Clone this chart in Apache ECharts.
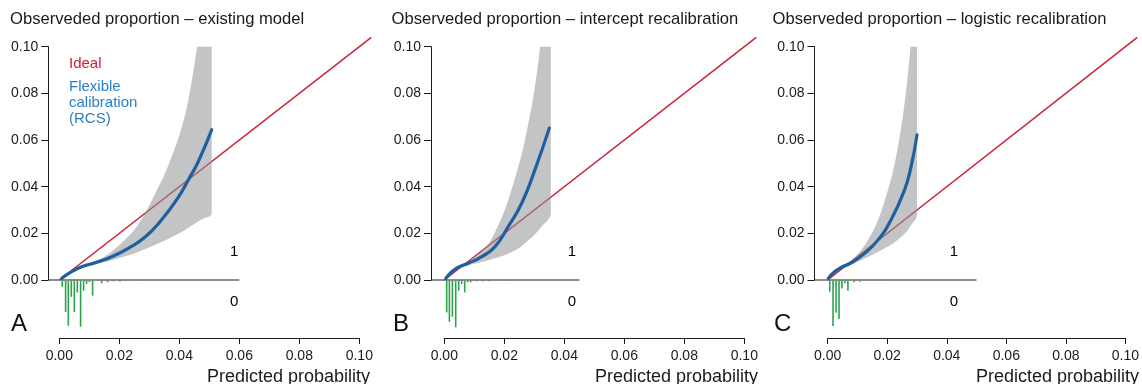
<!DOCTYPE html>
<html>
<head>
<meta charset="utf-8">
<script src="https://cdn.jsdelivr.net/npm/echarts@6/dist/echarts.min.js"></script>
<style>
  html, body { margin: 0; padding: 0; background: #fff; }
  #chart { width: 1142px; height: 384px; }
</style>
</head>
<body>
<div id="chart"></div>
<script>
const panelTitles = [
  'Observeded proportion – existing model',
  'Observeded proportion – intercept recalibration',
  'Observeded proportion – logistic recalibration',
];
const panelLetters = ['A', 'B', 'C'];
const xAxisName = 'Predicted probability';
const legendIdeal = 'Ideal';
const legendFlexible = 'Flexible\ncalibration\n(RCS)';
const outcomeLabels = ['1', '0'];

// ideal line end (runs a little past the axis max)
const idealEnd = 0.104;

// A: existing model
const curveXA = [0.0008, 0.0041, 0.0075, 0.0119, 0.0175, 0.023, 0.0286, 0.0341, 0.0397, 0.043, 0.0463, 0.0508];
const curveYA = [0.0007, 0.0036, 0.0057, 0.0074, 0.0100, 0.0136, 0.0184, 0.0258, 0.0355, 0.0429, 0.0507, 0.0644];
const bandXA = [0.001, 0.004, 0.007, 0.010, 0.0125, 0.015, 0.0175, 0.020, 0.0225, 0.025, 0.0275, 0.030, 0.0325, 0.035, 0.0375, 0.040, 0.0425, 0.045, 0.0475, 0.0508];
const bandHiA = [0.0010, 0.0040, 0.0060, 0.0074, 0.0085, 0.0100, 0.0122, 0.0150, 0.0180, 0.0215, 0.0262, 0.0320, 0.0385, 0.0450, 0.0530, 0.0620, 0.0740, 0.0920, 0.1150, 0.1500];
const bandLoA = [0.0006, 0.0032, 0.0050, 0.0061, 0.0069, 0.0077, 0.0085, 0.0094, 0.0104, 0.0114, 0.0126, 0.0140, 0.0154, 0.0168, 0.0184, 0.0200, 0.0220, 0.0240, 0.0260, 0.0285];
const spikeXA = [0.0010, 0.0021, 0.0030, 0.0040, 0.0050, 0.0060, 0.0071, 0.0081, 0.0091, 0.0100, 0.0111, 0.0141, 0.0161, 0.0180, 0.0202, 0.0222, 0.0260];
const spikeHA = [0.0029, 0.0137, 0.0196, 0.0072, 0.0137, 0.0053, 0.0200, 0.0046, 0.0017, 0.0009, 0.0067, 0.0014, 0.0010, 0.0006, 0.0006, 0.0004, 0.0004];

// B: intercept recalibration
const curveXB = [0.0005, 0.0025, 0.0047, 0.008, 0.0125, 0.0169, 0.0213, 0.0258, 0.0302, 0.035];
const curveYB = [0.0007, 0.0036, 0.0055, 0.0072, 0.0100, 0.0143, 0.0229, 0.0329, 0.0472, 0.0651];
const bandXB = [0.0005, 0.003, 0.006, 0.009, 0.012, 0.015, 0.018, 0.020, 0.022, 0.024, 0.026, 0.028, 0.030, 0.032, 0.0355];
const bandHiB = [0.0009, 0.0045, 0.0068, 0.0090, 0.0120, 0.0160, 0.0235, 0.0295, 0.0370, 0.0455, 0.0550, 0.0670, 0.0810, 0.1010, 0.1500];
const bandLoB = [0.0005, 0.0034, 0.0055, 0.0066, 0.0076, 0.0086, 0.0097, 0.0106, 0.0117, 0.0130, 0.0147, 0.0170, 0.0193, 0.0222, 0.0286];
const spikeXB = [0.0008, 0.0017, 0.0027, 0.0038, 0.0048, 0.0058, 0.0068, 0.0078, 0.0088, 0.0108, 0.0128, 0.0150, 0.0180, 0.0219];
const spikeHB = [0.0139, 0.0179, 0.0157, 0.0203, 0.0046, 0.0017, 0.0053, 0.0010, 0.0010, 0.0006, 0.0006, 0.0006, 0.0004, 0.0004];

// C: logistic recalibration
const curveXC = [0.0002, 0.0024, 0.0047, 0.008, 0.0124, 0.0169, 0.0213, 0.0258, 0.028, 0.030];
const curveYC = [0.0007, 0.0036, 0.0055, 0.0074, 0.0114, 0.0172, 0.0258, 0.0386, 0.0486, 0.0622];
const bandXC = [0.0003, 0.0025, 0.005, 0.008, 0.010, 0.012, 0.014, 0.016, 0.018, 0.020, 0.022, 0.024, 0.026, 0.028, 0.030];
const bandHiC = [0.0009, 0.0041, 0.0062, 0.0086, 0.0110, 0.0140, 0.0182, 0.0230, 0.0295, 0.0375, 0.0470, 0.0600, 0.0775, 0.1030, 0.1400];
const bandLoC = [0.0005, 0.0033, 0.0052, 0.0066, 0.0078, 0.0090, 0.0102, 0.0115, 0.0128, 0.0142, 0.0158, 0.0178, 0.0200, 0.0235, 0.0279];
const spikeXC = [0.0007, 0.0018, 0.0028, 0.0038, 0.0048, 0.0058, 0.0068, 0.0089, 0.0108, 0.0130, 0.0158, 0.0191];
const spikeHC = [0.0050, 0.0197, 0.0140, 0.0167, 0.0036, 0.0014, 0.0046, 0.0010, 0.0007, 0.0004, 0.0004, 0.0004];

// where the zero baseline stops and where the 1/0 labels sit, per panel
const zeroLineEnd = [0.06, 0.045, 0.05];
const outcomeLabelX = [0.0583, 0.0425, 0.0424];
const outcomeLabelY = [0.0121, -0.0093];

const curvesX = [curveXA, curveXB, curveXC];
const curvesY = [curveYA, curveYB, curveYC];
const bandsX = [bandXA, bandXB, bandXC];
const bandsHi = [bandHiA, bandHiB, bandHiC];
const bandsLo = [bandLoA, bandLoB, bandLoC];
const spikesX = [spikeXA, spikeXB, spikeXC];
const spikesH = [spikeHA, spikeHB, spikeHC];

const FONT = '"Liberation Sans", Arial, Helvetica, sans-serif';
const RED = '#cc2136';
const BLUE = '#1e5f9f';
const LEGEND_BLUE = '#2b80c5';
const GREEN = '#2ba24c';
const BAND = 'rgba(146,147,150,0.55)';
const INK = '#1a1a1a';

const gridLeft = [59.3, 444.3, 827.7];
const yAxisGap = [11, 13.3, 13.2];
const titleLeft = [10, 391.5, 772.5];
const letterLeft = [11, 393, 774];
const xNameRight = [772, 384, 3];
const pxPerUnit = 3000;

const chart = echarts.init(document.getElementById('chart'), null, { renderer: 'canvas' });

const grid = gridLeft.map(l => ({ left: l, top: 46.7, width: 300, height: 233.3 }));

const xAxis = gridLeft.map((_, i) => ({
  gridIndex: i,
  type: 'value',
  min: 0,
  max: 0.1,
  interval: 0.02,
  position: 'bottom',
  offset: 58,
  axisLine: { show: true, onZero: false, lineStyle: { color: INK, width: 1 } },
  axisTick: { show: true, length: 6, lineStyle: { color: INK } },
  axisLabel: { fontSize: 14, color: INK, margin: 11, fontFamily: FONT, formatter: v => v.toFixed(2) },
  splitLine: { show: false },
}));

const yAxis = gridLeft.map((_, i) => ({
  gridIndex: i,
  type: 'value',
  min: 0,
  max: 0.1,
  interval: 0.02,
  position: 'left',
  offset: yAxisGap[i],
  axisLine: { show: true, onZero: false, lineStyle: { color: INK, width: 1 } },
  axisTick: { show: true, length: 7, lineStyle: { color: INK } },
  axisLabel: { fontSize: 14, color: INK, margin: 10, fontFamily: FONT, formatter: v => v.toFixed(2) },
  splitLine: { show: false },
}));

const series = [];
gridLeft.forEach((_, i) => {
  const bx = bandsX[i], hi = bandsHi[i], lo = bandsLo[i];
  const sx = spikesX[i], sh = spikesH[i];

  // zero baseline, from the y axis to the end of the predictions
  series.push({
    type: 'custom',
    xAxisIndex: i, yAxisIndex: i,
    data: [[zeroLineEnd[i], 0]],
    clip: false, silent: true, z: 1,
    renderItem: (params, api) => {
      const p0 = api.coord([-yAxisGap[i] / pxPerUnit, 0]);
      const p1 = api.coord([api.value(0), 0]);
      return {
        type: 'line',
        shape: { x1: p0[0], y1: p0[1], x2: p1[0], y2: p1[1] },
        style: { stroke: INK, lineWidth: 1.2 },
      };
    },
  });

  // ideal diagonal
  series.push({
    type: 'custom',
    xAxisIndex: i, yAxisIndex: i,
    data: [[idealEnd, idealEnd]],
    clip: false, silent: true, z: 2,
    renderItem: (params, api) => {
      const p0 = api.coord([0, 0]);
      const p1 = api.coord([api.value(0), api.value(1)]);
      return {
        type: 'line',
        shape: { x1: p0[0], y1: p0[1], x2: p1[0], y2: p1[1] },
        style: { stroke: RED, lineWidth: 1.5 },
      };
    },
  });

  // confidence band
  series.push({
    type: 'custom',
    xAxisIndex: i, yAxisIndex: i,
    data: bx.map((x, k) => [x, lo[k], hi[k]]),
    encode: { x: 0, y: [1, 2] },
    clip: true, silent: true, z: 3,
    renderItem: (params, api) => {
      if (params.dataIndex !== 0) return null;
      const pts = [];
      for (let k = 0; k < bx.length; k++) pts.push(api.coord([bx[k], hi[k]]));
      for (let k = bx.length - 1; k >= 0; k--) pts.push(api.coord([bx[k], lo[k]]));
      const xs = pts.map(p => p[0]), ys = pts.map(p => p[1]);
      const box = [[Math.min(...xs), Math.min(...ys)], [Math.max(...xs), Math.max(...ys)]];
      return {
        type: 'polygon',
        shape: { points: pts, smooth: 0.35, smoothConstraint: box },
        style: { fill: BAND },
      };
    },
  });

  series.push({
    type: 'line',
    xAxisIndex: i, yAxisIndex: i,
    data: curvesX[i].map((x, k) => [x, curvesY[i][k]]),
    showSymbol: false, silent: true, smooth: 0.5, z: 4,
    lineStyle: { color: BLUE, width: 3.2, cap: 'round' },
  });

  series.push({
    type: 'custom',
    xAxisIndex: i, yAxisIndex: i,
    data: sx.map((x, k) => [x, sh[k]]),
    clip: false, silent: true, z: 2,
    renderItem: (params, api) => {
      const p0 = api.coord([api.value(0), 0]);
      const p1 = api.coord([api.value(0), -api.value(1)]);
      return {
        type: 'line',
        shape: { x1: p0[0], y1: p0[1] + 0.6, x2: p1[0], y2: p1[1] },
        style: { stroke: GREEN, lineWidth: 1.6 },
      };
    },
  });

  series.push({
    type: 'scatter',
    xAxisIndex: i, yAxisIndex: i,
    data: outcomeLabels.map((t, k) => ({ name: t, value: [outcomeLabelX[i], outcomeLabelY[k]] })),
    symbolSize: 0, clip: false, silent: true,
    itemStyle: { opacity: 1 },
    label: {
      show: true, position: 'inside', formatter: '{b}',
      fontSize: 15, color: '#000', fontFamily: FONT,
    },
  });
});

const titleStyle = (size, color) => ({ fontSize: size, fontWeight: 'normal', color, fontFamily: FONT });

const title = [
  ...panelTitles.map((t, i) => ({ text: t, left: titleLeft[i], top: 11, padding: 0, textStyle: titleStyle(16.6, INK) })),
  ...panelLetters.map((t, i) => ({ text: t, left: letterLeft[i], top: 312, padding: 0, textStyle: titleStyle(24, '#111') })),
  ...xNameRight.map(r => ({ text: xAxisName, right: r, top: 368, padding: 0, textStyle: titleStyle(18, INK) })),
  { text: legendIdeal, left: 69, top: 56, padding: 0, textStyle: titleStyle(15, RED) },
  { text: legendFlexible, left: 69, top: 79, padding: 0, textStyle: { ...titleStyle(15, LEGEND_BLUE), lineHeight: 16 } },
];

chart.setOption({
  animation: false,
  backgroundColor: '#fff',
  title,
  grid,
  xAxis,
  yAxis,
  series,
});
</script>
</body>
</html>
